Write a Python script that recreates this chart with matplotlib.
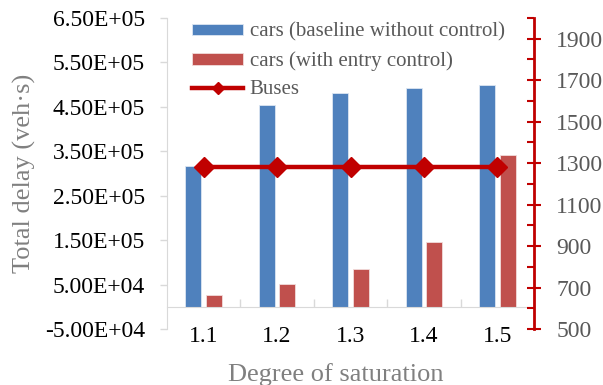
import matplotlib
matplotlib.use("Agg")
import matplotlib.pyplot as plt
from matplotlib.ticker import FixedLocator, FuncFormatter
import numpy as np

categories = ["1.1", "1.2", "1.3", "1.4", "1.5"]
cars_baseline = [3.17e5, 4.54e5, 4.81e5, 4.93e5, 5.00e5]
cars_control = [2.6e4, 5.2e4, 8.4e4, 1.46e5, 3.42e5]
buses = [1280, 1280, 1280, 1280, 1280]

left_ticks = [-5e4, 5e4, 1.5e5, 2.5e5, 3.5e5, 4.5e5, 5.5e5, 6.5e5]
right_ticks = [500, 700, 900, 1100, 1300, 1500, 1700, 1900]

plt.rcParams['font.family'] = ['Liberation Serif', 'DejaVu Serif']

BLUE = "#4F81BD"
RED = "#C0504D"
BUS = "#C00000"
GRAY_TXT = "#595959"
GRAY_LINE = "#D9D9D9"

fig = plt.figure(figsize=(6.03, 3.85), dpi=100)
ax = fig.add_axes([167/603, 1-329/385, (534-167)/603, (329-18)/385])

x = np.arange(len(categories))
w = 0.22
ax.bar(x - 0.14, cars_baseline, w, color=BLUE, edgecolor="#DCE6F2", linewidth=0.6,
       label="cars (baseline without control)", zorder=2)
ax.bar(x + 0.14, cars_control, w, color=RED, edgecolor="#F2DCDB", linewidth=0.6,
       label="cars (with entry control)", zorder=2)

ax.set_xlim(-0.5, len(categories) - 0.5)
ax.set_ylim(-5e4, 6.5e5)
ax.yaxis.set_major_locator(FixedLocator(left_ticks))
ax.yaxis.set_major_formatter(FuncFormatter(lambda v, p: f"{v:.2E}"))
ax.tick_params(axis='y', direction='out', length=5, width=1, color=GRAY_LINE,
               labelsize=17, labelcolor='black', pad=11)

ax.spines['top'].set_visible(False)
ax.spines['right'].set_visible(False)
ax.spines['left'].set_color(GRAY_LINE)
ax.spines['bottom'].set_position(('data', 0))
ax.spines['bottom'].set_color(GRAY_LINE)

ax.set_xticks(x)
ax.set_xticklabels(categories)
ax.set_xticks(np.arange(len(categories) - 1) + 0.5, minor=True)
ax.tick_params(axis='x', which='major', length=0, labelsize=17, labelcolor='black', pad=14)
ax.tick_params(axis='x', which='minor', direction='in', length=6, width=1, color=GRAY_LINE)

ax.set_ylabel("Total delay (veh·s)", fontsize=19, color="#808080")
ax.yaxis.set_label_coords(-0.357, 0.5)
ax.set_xlabel("Degree of saturation", fontsize=19, color="#808080")
ax.xaxis.set_label_coords(0.46, -0.108)

ax2 = ax.twinx()
ax2.set_position(ax.get_position())
line, = ax2.plot(x, buses, color=BUS, linewidth=3.2, marker='D', markersize=10,
                 label="Buses", zorder=3)
ax2.set_ylim(500, 2000)
ax2.yaxis.set_major_locator(FixedLocator(right_ticks))
ax2.yaxis.set_minor_locator(FixedLocator([600, 800, 1000, 1200, 1400, 1600, 1800, 2000]))
ax2.tick_params(axis='y', which='major', direction='inout', length=10, width=1.5, color=BUS,
                labelsize=17, labelcolor=GRAY_TXT, pad=11)
ax2.tick_params(axis='y', which='minor', direction='in', length=5, width=1.5, color=BUS)
for s in ['top', 'left', 'bottom']:
    ax2.spines[s].set_visible(False)
ax2.spines['right'].set_color(BUS)
ax2.spines['right'].set_linewidth(2)

h1, l1 = ax.get_legend_handles_labels()
h2, l2 = ax2.get_legend_handles_labels()
leg = ax2.legend(h1 + h2, l1 + l2, loc='upper left', bbox_to_anchor=(0.046, 1.012),
                 frameon=False, fontsize=15, labelcolor=GRAY_TXT, handlelength=2.45,
                 handleheight=0.5, handletextpad=0.3, labelspacing=0.45, borderaxespad=0,
                 markerscale=0.65)

fig.savefig("out.png", dpi=100)
